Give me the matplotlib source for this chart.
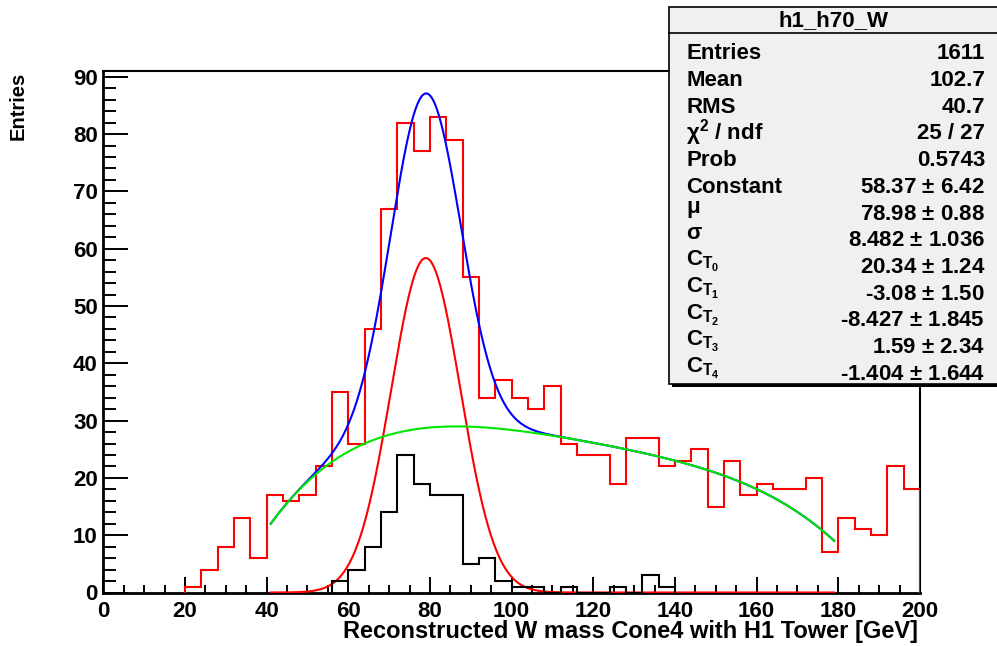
import numpy as np
import matplotlib
matplotlib.use('Agg')
import matplotlib.pyplot as plt
from matplotlib.patches import Rectangle
from matplotlib.lines import Line2D
import matplotlib.ticker as ticker

plt.rcParams['font.family'] = ['Liberation Sans', 'DejaVu Sans']
plt.rcParams['font.weight'] = 'bold'
plt.rcParams['mathtext.fontset'] = 'custom'
plt.rcParams['mathtext.rm'] = 'Liberation Sans'
plt.rcParams['mathtext.bf'] = 'Liberation Sans:bold'
plt.rcParams['mathtext.it'] = 'Liberation Sans:italic'

# ---- data (4 GeV bins) ----
bin_width = 4
red_start = 20
red_counts = [1, 4, 8, 13, 6, 17, 16, 17, 22, 35, 26, 46, 67, 82, 77, 83, 79, 55,
              34, 37, 34, 32, 36, 26, 24, 24, 19, 27, 27, 22, 23, 25, 15, 23, 17,
              19, 18, 18, 20, 7, 13, 11, 10, 22, 18]
black_start = 56
black_counts = [2, 4, 8, 14, 24, 19, 17, 17, 5, 6, 2, 1, 1, 0, 1, 0, 0, 1, 0, 3, 1]

# fit results from the stats box
gaus_par = [58.37, 78.98, 8.482]          # constant, mu, sigma
cheb_par = [20.34, -3.08, -8.427, 1.59, -1.404]
fit_range = [41, 179]

stats_labels = ['Entries', 'Mean', 'RMS', r'$\mathrm{\chi}^{\mathbf{2}}$ / ndf', 'Prob', 'Constant',
                r'$\mathrm{\mu}$', r'$\mathrm{\sigma}$',
                r'$\mathbf{C}_{\mathbf{T}_{\mathbf{0}}}$', r'$\mathbf{C}_{\mathbf{T}_{\mathbf{1}}}$',
                r'$\mathbf{C}_{\mathbf{T}_{\mathbf{2}}}$', r'$\mathbf{C}_{\mathbf{T}_{\mathbf{3}}}$',
                r'$\mathbf{C}_{\mathbf{T}_{\mathbf{4}}}$']
stats_values = ['1611', '102.7', '40.7', '25 / 27', '0.5743', '58.37 $\\pm$ 6.42',
                '78.98 $\\pm$ 0.88', '8.482 $\\pm$ 1.036', '20.34 $\\pm$ 1.24',
                '-3.08 $\\pm$ 1.50', '-8.427 $\\pm$ 1.845', '1.59 $\\pm$ 2.34',
                '-1.404 $\\pm$ 1.644']

W, H = 997, 646
fig = plt.figure(figsize=(W / 100, H / 100), dpi=100)

def fx(px):
    return px / W

def fy(py):
    return 1 - py / H

ax = fig.add_axes([fx(103.3), fy(592.5), fx(920) - fx(103.3), fy(71) - fy(592.5)])


def step_hist(start, counts):
    edges = start + bin_width * np.arange(len(counts) + 1)
    xs = np.repeat(edges, 2)
    ys = np.concatenate([[0], np.repeat(counts, 2), [0]])
    return xs, ys

xr, yr = step_hist(red_start, red_counts)
ax.plot(xr, yr, color='red', lw=1.5, zorder=3, solid_joinstyle='miter')

# fit curves
x = np.linspace(fit_range[0], fit_range[1], 400)
gaus = gaus_par[0] * np.exp(-0.5 * ((x - gaus_par[1]) / gaus_par[2]) ** 2)
u = (2 * x - fit_range[0] - fit_range[1]) / (fit_range[1] - fit_range[0])
cheb = np.polynomial.chebyshev.chebval(u, cheb_par)

ax.plot(x, gaus + cheb, color='blue', lw=1.5, zorder=4)
ax.plot(x, gaus, color='red', lw=1.5, zorder=4)

xb, yb = step_hist(black_start, black_counts)
ax.plot(xb, yb, color='black', lw=1.5, zorder=5, solid_joinstyle='miter')

ax.plot(x, cheb, color='#00e600', lw=1.5, zorder=6)

ax.set_xlim(0, 200)
ax.set_ylim(0, 91)
ax.xaxis.set_major_locator(ticker.MultipleLocator(20))
ax.xaxis.set_minor_locator(ticker.MultipleLocator(5))
ax.yaxis.set_major_locator(ticker.MultipleLocator(10))
ax.yaxis.set_minor_locator(ticker.MultipleLocator(2))
ax.tick_params(axis='both', which='both', direction='in', top=False, right=False,
               width=1.4, labelsize=16)
ax.tick_params(axis='y', which='major', length=18, pad=4)
ax.tick_params(axis='y', which='minor', length=9)
ax.tick_params(axis='x', which='major', length=11.5, pad=6)
ax.tick_params(axis='x', which='minor', length=6)
for lab in ax.get_xticklabels() + ax.get_yticklabels():
    lab.set_fontweight('bold')
for s in ax.spines.values():
    s.set_linewidth(1.5)
ax.spines['left'].set_linewidth(2)
ax.spines['bottom'].set_linewidth(2)

fig.text(fx(918), fy(638), 'Reconstructed W mass Cone4 with H1 Tower [GeV]',
         ha='right', va='baseline', fontsize=17, fontweight='bold')
fig.text(fx(18.5), fy(72), 'Entries', rotation=90, ha='center', va='top',
         fontsize=14.5, fontweight='bold')

# ---- stats box ----
bx0, by0, bx1, by1 = 669, 7, 1010, 384
fig.add_artist(Rectangle((fx(bx0 + 3), fy(by1 + 3)), fx(bx1 - bx0), fy(by0) - fy(by1),
                         transform=fig.transFigure, facecolor='black', edgecolor='none', zorder=5))
fig.add_artist(Rectangle((fx(bx0), fy(by1)), fx(bx1 - bx0), fy(by0) - fy(by1),
                         transform=fig.transFigure, facecolor='#f0f0f0', edgecolor='black',
                         lw=1.2, zorder=6))
fig.add_artist(Line2D([fx(bx0), fx(bx1)], [fy(33), fy(33)], transform=fig.transFigure,
                      color='black', lw=1.2, zorder=7))
fig.text(fx(833), fy(21), 'h1_h70_W', ha='center', va='center', fontsize=16,
         fontweight='bold', zorder=8)

row0, dy = 51.7, 26.73
for i, (lab, val) in enumerate(zip(stats_labels, stats_values)):
    base = row0 + i * dy + 7.5
    lb = base - 7 if i >= 6 else base
    fig.text(fx(686), fy(lb), lab, ha='left', va='baseline', fontsize=16,
             fontweight='bold', zorder=8)
    fig.text(fx(985), fy(base), val, ha='right', va='baseline', fontsize=16,
             fontweight='bold', zorder=8)

fig.savefig('out.png', dpi=100)
